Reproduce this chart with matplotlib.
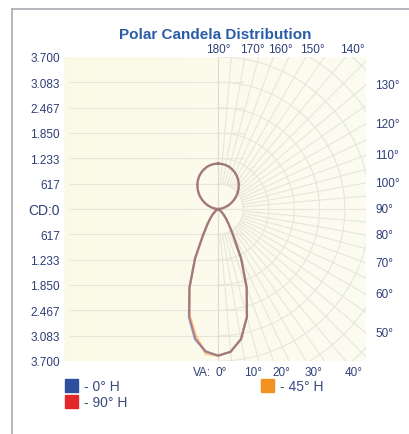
import numpy as np
import matplotlib.pyplot as plt
from matplotlib.patches import Rectangle
from matplotlib.lines import Line2D

plt.rcParams['font.family'] = ['Liberation Sans', 'DejaVu Sans']

# vertical angles, 0 = straight down, 180 = straight up
va = np.arange(0, 181, 5)

# candela per vertical angle; "front" is drawn on the right, "back" on the left
cd_0h = [3570, 3490, 3220, 2720, 2040, 1330, 730, 450, 290, 180, 100, 45, 12, 2,
         0, 0, 0, 0, 0, 45, 115, 190, 275, 360, 450, 540, 625, 705, 785, 855,
         920, 975, 1020, 1060, 1085, 1100, 1105]
cd_0h_back = [3570, 3480, 3230, 2740, 2050, 1330, 730, 450, 290, 180, 100, 45, 12, 2,
              0, 0, 0, 0, 0, 45, 115, 190, 275, 360, 450, 540, 625, 705, 785, 855,
              920, 975, 1020, 1060, 1085, 1100, 1105]
cd_45h = [3570, 3490, 3210, 2710, 2030, 1320, 720, 450, 290, 180, 100, 45, 12, 2,
          0, 0, 0, 0, 0, 45, 115, 190, 275, 360, 450, 540, 625, 705, 785, 855,
          920, 975, 1020, 1060, 1085, 1100, 1105]
cd_45h_back = [3570, 3540, 3120, 2680, 2020, 1320, 720, 450, 290, 180, 100, 45, 12, 2,
               0, 0, 0, 0, 0, 45, 115, 190, 275, 360, 450, 540, 625, 705, 785, 855,
               920, 975, 1020, 1060, 1085, 1100, 1105]
cd_90h = [3570, 3490, 3210, 2710, 2030, 1320, 720, 450, 290, 180, 100, 45, 12, 2,
          0, 0, 0, 0, 0, 45, 115, 190, 275, 360, 450, 540, 625, 705, 785, 855,
          920, 975, 1020, 1060, 1085, 1100, 1105]
cd_90h_back = [3570, 3480, 3190, 2700, 2030, 1320, 720, 450, 290, 180, 100, 45, 12, 2,
               0, 0, 0, 0, 0, 45, 115, 190, 275, 360, 450, 540, 625, 705, 785, 855,
               920, 975, 1020, 1060, 1085, 1100, 1105]

series_names = ['- 0° H', '- 45° H', '- 90° H']
series_colors = ['#2d4f9e', '#f29222', '#e3262a']

cd_ticks = [-3700, -3083, -2467, -1850, -1233, -617, 0, 617, 1233, 1850, 2467, 3083, 3700]
cd_labels = ['3.700', '3.083', '2.467', '1.850', '1.233', '617', 'CD:0',
             '617', '1.233', '1.850', '2.467', '3.083', '3.700']
top_angles = [180, 170, 160, 150, 140]
side_angles = [130, 120, 110, 100, 90, 80, 70, 60, 50]
bottom_angles = [0, 10, 20, 30, 40]

W, H = 409, 435
fig = plt.figure(figsize=(W / 100, H / 100), dpi=100)

# plot box in pixels
bx0, bx1, by0, by1 = 64, 366, 58, 362
ax = fig.add_axes([bx0 / W, 1 - by1 / H, (bx1 - bx0) / W, (by1 - by0) / H])
xmin, xmax, ymin, ymax = -3750, 3600, -3700, 3700
ax.set_xlim(xmin, xmax)
ax.set_ylim(ymin, ymax)
for s in ax.spines.values():
    s.set_visible(False)
ax.set_xticks([])
ax.tick_params(axis='y', length=0, pad=3, labelsize=8.5, labelcolor='#2f3f76')
ax.set_yticks(cd_ticks, cd_labels)
for t in ax.get_yticklabels():
    if t.get_text() == 'CD:0':
        t.set_fontsize(10)

# pale cream background, a bit more yellow on the left
gx = np.linspace(0, 1, 200)
r = np.full_like(gx, 0.988)
g = 0.980 + 0.006 * gx
b = 0.905 + 0.040 * gx
bg = np.stack([np.tile(r, (2, 1)), np.tile(g, (2, 1)), np.tile(b, (2, 1))], axis=-1)
ax.imshow(bg, extent=[xmin, xmax, ymin, ymax], aspect='auto', zorder=0)

grid_kw = dict(color='#e6e7da', lw=0.8, zorder=1)
# left half: horizontal lines
for y in cd_ticks[1:-1]:
    ax.plot([xmin + 150, 600], [y, y], **grid_kw)
ax.axvline(0, color='#dcddcf', lw=0.9, zorder=1)
# right half: polar web
th = np.linspace(0, np.pi, 200)
for k in range(1, 9):
    rr = 617 * k
    ax.plot(rr * np.sin(th), -rr * np.cos(th), **grid_kw)
for a in range(5, 180, 5):
    t = np.radians(a)
    ax.plot([617 * np.sin(t), 6000 * np.sin(t)], [-617 * np.cos(t), -6000 * np.cos(t)], **grid_kw)

# candela curves
rad = np.radians(va)
fronts = [cd_90h, cd_45h, cd_0h]
backs = [cd_90h_back, cd_45h_back, cd_0h_back]
cols = [series_colors[2], series_colors[1], series_colors[0]]
for front, back, col in zip(fronts, backs, cols):
    front = np.array(front, float)
    back = np.array(back, float)
    xs = np.concatenate([-back[::-1] * np.sin(rad[::-1]), front * np.sin(rad)])
    ys = np.concatenate([-back[::-1] * np.cos(rad[::-1]), -front * np.cos(rad)])
    ax.plot(xs, ys, color=col, lw=1.6, alpha=0.42, zorder=3)

# angle labels around the box
px = (xmax - xmin) / (bx1 - bx0)
lab = dict(fontsize=8.5, color='#2f3f76', ha='center', va='center')
for a in top_angles:
    x = ymax * np.tan(np.radians(180 - a))
    off = 0 if a == 180 else 7
    fig.text((bx0 + (x - xmin) / px + off) / W, 1 - 50 / H, f'{a}°', **lab)
for a in bottom_angles:
    x = -ymin * np.tan(np.radians(a))
    off = 3.5 if a == 0 else 8
    fig.text((bx0 + (x - xmin) / px + off) / W, 1 - 373 / H, f'{a}°', **lab)
fig.text(211 / W, 1 - 373 / H, 'VA:', fontsize=8.5, color='#2f3f76', ha='right', va='center')
for a in side_angles:
    y = -xmax / np.tan(np.radians(a))
    ypix = by0 + (ymax - y) / px
    fig.text(375 / W, 1 - ypix / H, f'{a}°', fontsize=8.5, color='#2f3f76',
             ha='left', va='center')

fig.text(215 / W, 1 - 35 / H, 'Polar Candela Distribution', fontsize=11,
         fontweight='bold', color='#2a5ca8', ha='center', va='center')

# legend
leg = [(65, 380, 0), (261, 380, 1), (65, 396, 2)]
for lx, ly, i in leg:
    fig.add_artist(Rectangle((lx / W, 1 - (ly + 13) / H), 13 / W, 13 / H,
                             transform=fig.transFigure, color=series_colors[i]))
    fig.text((lx + 19) / W, 1 - (ly + 7) / H, series_names[i], fontsize=10,
             color='#3a4a80', ha='left', va='center')

# outer frame
fig.add_artist(Line2D([12 / W, 1], [1 - 10 / H, 1 - 10 / H], color='#b0b0b8', lw=1.3,
                      transform=fig.transFigure))
fig.add_artist(Line2D([12 / W, 12 / W], [0, 1 - 10 / H], color='#b0b0b8', lw=1.3,
                      transform=fig.transFigure))

fig.savefig('out.png', dpi=100)
